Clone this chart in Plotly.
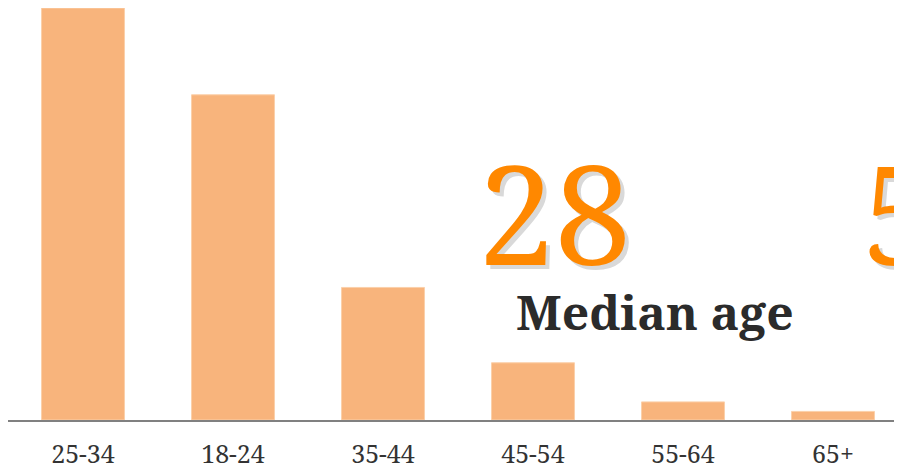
import plotly.graph_objects as go

categories = ["25-34", "18-24", "35-44", "45-54", "55-64", "65+"]
share_pct = [43.2, 34.1, 13.9, 6.0, 1.9, 0.9]
median_age = "28"
next_stat = "5"
median_label = "Median age"

# page body has an 8px margin; the figure starts at (8, 8) on screen
OFF = 8
W, H = 900, 469
ML, MR, MT, MB = 0, 0, 0, 57
PW, PH = W - ML - MR, H - MT - MB

def px_x(px):
    return (px - OFF - ML) / PW

def px_y(py):
    return (OFF + MT + PH - py) / PH

serif = "Noto Serif, DejaVu Serif, serif"

fig = go.Figure(
    go.Bar(
        x=categories,
        y=share_pct,
        marker=dict(color="#F8B47C", line=dict(color="#FBD0AA", width=1)),
        hoverinfo="skip",
    )
)

fig.update_layout(
    width=W,
    height=H,
    margin=dict(l=ML, r=MR, t=MT, b=MB, autoexpand=False),
    paper_bgcolor="white",
    plot_bgcolor="white",
    bargap=0.447,
    showlegend=False,
    xaxis=dict(
        range=[-0.5, 5.5],
        automargin=False,
        showgrid=False,
        zeroline=False,
        showline=True,
        linecolor="#808080",
        linewidth=2,
        ticks="",
        ticklabelstandoff=11,
        tickfont=dict(family=serif, size=25, color="#333333"),
        fixedrange=True,
    ),
    yaxis=dict(
        range=[0, 43.2],
        visible=False,
        automargin=False,
        fixedrange=True,
    ),
    annotations=[
        dict(
            text=median_age, xref="paper", yref="paper",
            x=px_x(476), y=px_y(212), xanchor="left", yanchor="middle",
            showarrow=False,
            font=dict(family=serif, size=137, color="#FF8800", shadow="4px 4px 0px #D9D9D9"),
        ),
        dict(
            text=next_stat, xref="paper", yref="paper",
            x=px_x(860), y=px_y(212), xanchor="left", yanchor="middle",
            showarrow=False,
            font=dict(family=serif, size=137, color="#FF8800", shadow="4px 4px 0px #D9D9D9"),
        ),
        dict(
            text="<b>" + median_label + "</b>", xref="paper", yref="paper",
            x=px_x(655), y=px_y(311), xanchor="center", yanchor="middle",
            showarrow=False,
            font=dict(family=serif, size=48, color="#2B2B2B"),
        ),
    ],
)

fig.write_html("out.html")
